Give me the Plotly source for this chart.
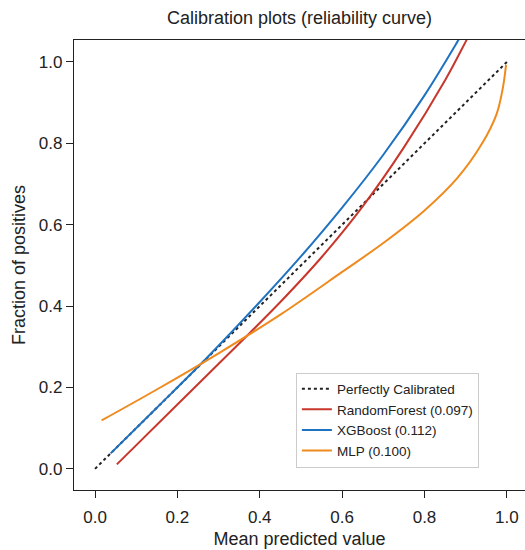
import plotly.graph_objects as go

perfect_x = [0.0, 1.0]
perfect_y = [0.0, 1.0]

rf_x = [0.053, 0.2, 0.35, 0.45, 0.55, 0.65, 0.75, 0.85, 0.9, 0.93]
rf_y = [0.011, 0.158, 0.308, 0.41, 0.52, 0.645, 0.79, 0.955, 1.05, 1.11]

xgb_x = [0.038, 0.15, 0.267, 0.4, 0.5, 0.6, 0.7, 0.8, 0.88, 0.92]
xgb_y = [0.038, 0.150, 0.268, 0.410, 0.522, 0.642, 0.772, 0.918, 1.05, 1.12]

mlp_x = [0.016, 0.15, 0.3, 0.45, 0.6, 0.7, 0.8, 0.88, 0.94, 0.975, 0.99, 0.998]
mlp_y = [0.119, 0.195, 0.284, 0.379, 0.484, 0.555, 0.635, 0.715, 0.80, 0.872, 0.935, 0.993]

names = ["Perfectly Calibrated", "RandomForest (0.097)", "XGBoost (0.112)", "MLP (0.100)"]
colors = ["#222222", "#c7372c", "#1f72c0", "#ef8a1f"]

fig = go.Figure()
fig.add_trace(go.Scatter(x=perfect_x, y=perfect_y, mode="lines", name=names[0],
                         line=dict(color=colors[0], width=2, dash="dot")))
fig.add_trace(go.Scatter(x=rf_x, y=rf_y, mode="lines", name=names[1],
                         line=dict(color=colors[1], width=2, shape="spline", smoothing=1.0)))
fig.add_trace(go.Scatter(x=xgb_x, y=xgb_y, mode="lines", name=names[2],
                         line=dict(color=colors[2], width=2, shape="spline", smoothing=1.0)))
fig.add_trace(go.Scatter(x=mlp_x, y=mlp_y, mode="lines", name=names[3],
                         line=dict(color=colors[3], width=2, shape="spline", smoothing=1.0)))

font_family = "Liberation Sans, Arial, sans-serif"
ticks = [0, 0.2, 0.4, 0.6, 0.8, 1.0]
tick_text = ["0.0", "0.2", "0.4", "0.6", "0.8", "1.0"]

fig.update_layout(
    width=525, height=550,
    margin=dict(l=74, r=0, t=40, b=60),
    paper_bgcolor="white", plot_bgcolor="white",
    font=dict(family=font_family, size=17, color="#222222"),
    title=dict(text="Calibration plots (reliability curve)", x=0.5, xref="paper",
               y=0.967, yref="container", yanchor="middle", pad=dict(t=0),
               font=dict(size=18, color="#222222")),
    showlegend=True,
    legend=dict(x=0.492, y=0.05, xanchor="left", yanchor="bottom",
                bgcolor="white", bordercolor="#cccccc", borderwidth=1,
                font=dict(size=13.5, color="#222222"), tracegroupgap=0,
                itemwidth=30),
    xaxis=dict(range=[-0.051, 1.044], tickvals=ticks, ticktext=tick_text,
               showgrid=False, zeroline=False, showline=True, linecolor="#222222",
               linewidth=1.2, mirror=True, ticks="outside", ticklen=7, tickcolor="#222222",
               ticklabelstandoff=4,
               title=dict(text="Mean predicted value", standoff=6, font=dict(size=18))),
    yaxis=dict(range=[-0.052, 1.054], tickvals=ticks, ticktext=tick_text,
               showgrid=False, zeroline=False, showline=True, linecolor="#222222",
               linewidth=1.2, ticks="outside", ticklen=7, tickcolor="#222222",
               title=dict(text="Fraction of positives", standoff=8, font=dict(size=18))),
)

fig.write_html("out.html")
